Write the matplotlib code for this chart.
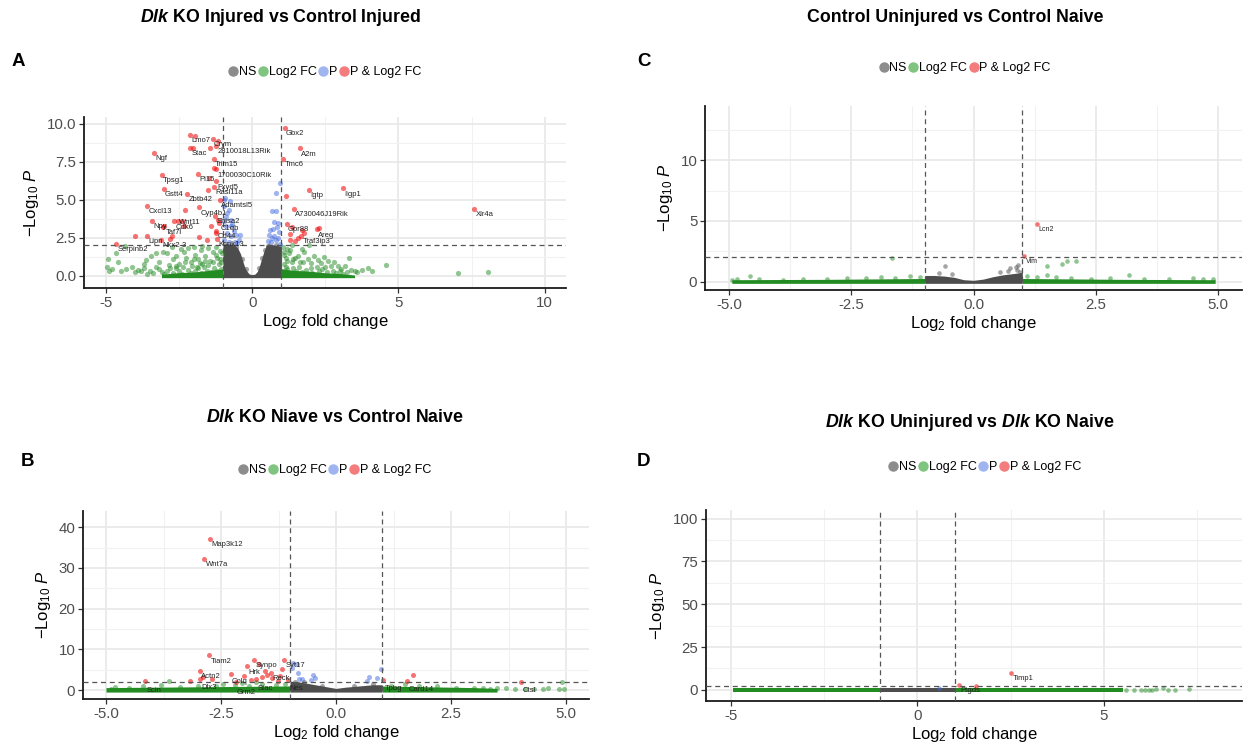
import matplotlib
matplotlib.use("Agg")
import matplotlib.pyplot as plt
from matplotlib.lines import Line2D

plt.rcParams['font.family'] = ['Liberation Sans', 'DejaVu Sans']
plt.rcParams['mathtext.fontset'] = 'custom'
plt.rcParams['mathtext.rm'] = 'Liberation Sans'
plt.rcParams['mathtext.it'] = 'Liberation Sans:italic'
plt.rcParams['mathtext.bf'] = 'Liberation Sans:bold'
plt.rcParams['mathtext.bfit'] = 'Liberation Sans:italic:bold'
plt.rcParams['axes.unicode_minus'] = False

# ---------------- panel A : Dlk KO Injured vs Control Injured ----------------
a_sig_x = [1.11, 1.63, 1.06, 1.94, 3.09, 7.60, 1.43, 1.18, 2.20, 1.67,
           -2.12, -1.35, -1.44, -1.22, -3.36, -1.31, -1.25, -1.84, -3.09, -1.25,
           -1.30, -3.03, -2.22, -1.10, -3.58, -1.82, -2.31, -1.27, -1.14, -3.41,
           -2.67, -1.22, -3.01, -3.58, -3.13, -4.66, -1.20,
           1.15, 1.35, 1.28, 1.72, 1.55, 1.30, 2.27, 1.78, 1.45,
           -1.95, -2.14, -2.01, -1.16, -1.48, -1.50, -1.31, -2.33, -2.52, -2.40,
           -1.42, -1.82, -2.73, -1.22, -1.55, -3.99, -1.18, -2.80, -3.06]
a_sig_y = [9.71, 8.38, 7.70, 5.64, 5.75, 4.37, 4.37, 3.39, 3.05, 2.65,
           9.28, 9.00, 8.40, 8.55, 8.07, 7.68, 7.00, 6.71, 6.65, 6.21,
           5.85, 5.71, 5.40, 5.00, 4.61, 4.50, 4.30, 3.91, 3.45, 3.62,
           3.58, 2.95, 3.25, 2.62, 2.35, 2.11, 2.45,
           5.26, 3.24, 2.74, 3.02, 2.52, 2.33, 3.13, 2.80, 2.32,
           9.17, 8.40, 8.40, 8.88, 6.43, 5.62, 7.10, 3.31, 3.58, 3.58,
           3.25, 2.55, 2.59, 2.81, 2.37, 2.61, 3.68, 2.43, 3.22]
a_sig_lab = ['Gbx2', 'A2m', 'Tmc6', 'Igtp', 'Iigp1', 'Xlr4a', 'A730046J19Rik', 'Gpr88', 'Areg', 'Traf3ip3',
             'Lmo7', 'Crym', 'Stac', '2810018L13Rik', 'Ngf', 'Trim15', '1700030C10Rik', 'Pi15', 'Tpsg1', 'Fxyd5',
             'Rasl11a', 'Gstt4', 'Zbtb42', 'Adamtsl5', 'Cxcl13', 'Cyp4b1', 'Wnt11', 'Shisa2', 'C1qb', 'Npy',
             'Cdk6', 'Cd44', 'Taf7l', 'Lipn', 'Nkx2-3', 'Serpinb2', 'Kcnk13'] + [''] * 28

a_p_x = [-0.97, -0.93, -0.98, -0.75, -0.79, -0.85, -0.74, -0.95, -0.91, -0.74,
         -0.63, -0.85, -0.72, -0.57, -0.45, -0.97, -0.80, -0.60, -0.40, -0.88,
         -0.68, -0.52, 0.94, 0.80, 0.67, 0.82, 0.75, 0.90, 0.62, 0.72,
         0.91, 0.58, 0.75, 0.87, 0.53, 0.64, 0.81, 0.94, 0.68, 0.85]
a_p_y = [5.00, 5.09, 4.62, 4.92, 4.35, 4.13, 3.69, 3.58, 3.25, 3.25,
         2.92, 2.81, 2.59, 2.70, 2.37, 2.37, 2.20, 2.25, 2.70, 3.90,
         3.40, 2.15, 6.13, 5.43, 4.24, 4.28, 3.54, 3.50, 3.02, 3.07,
         2.91, 2.70, 2.59, 2.48, 2.26, 2.20, 2.37, 2.11, 2.50, 3.20]

a_fc_x = [-4.93, -4.80, -4.95, -4.88, -4.67, -4.35, -4.60, -4.50, -4.30, -4.10,
          -4.02, -3.90, -3.80, -3.70, -3.64, -3.50, -3.45, -3.30, -3.30, -3.20,
          -3.10, -3.05, -2.90, -2.85, -2.70, -2.61, -2.50, -2.45, -2.33, -2.25,
          -2.10, -2.00, -1.95, -1.85, -1.75, -1.70, -1.60, -1.50, -1.45, -1.35,
          -1.25, -1.20, -1.10, -1.05, -1.70, -2.20, -2.75, -1.90, -2.60, -3.60,
          -3.00, -2.90, -2.80, -2.70, -2.60, -2.50, -2.40, -2.35, -2.30, -2.20,
          -2.10, -2.05, -2.00, -1.95, -1.85, -1.80, -1.75, -1.65, -1.60, -1.55,
          -1.50, -1.40, -1.35, -1.30, -1.25, -1.20, -1.15, -1.10, -1.05, -1.02,
          -3.20, -3.40, -3.70,
          1.05, 1.10, 1.20, 1.30, 1.36, 1.45, 1.55, 1.65, 1.78, 1.90,
          1.95, 2.00, 2.10, 2.24, 2.35, 2.45, 2.50, 2.69, 2.80, 2.92,
          3.05, 3.18, 3.30, 3.38, 3.50, 3.60, 3.75, 3.95, 4.10, 4.59,
          7.05, 8.05, 1.15, 1.40, 1.70, 2.60,
          1.05, 1.10, 1.15, 1.20, 1.25, 1.30, 1.35, 1.40, 1.50, 1.60,
          1.70, 1.75, 1.85, 2.00, 2.05, 2.20, 2.30, 2.40, 2.55, 2.75,
          2.85, 3.00, 3.10, 3.25, 1.08, 1.18]
a_fc_y = [1.14, 0.48, 0.60, 0.35, 1.47, 1.96, 0.90, 0.30, 0.45, 0.55,
          0.26, 0.40, 0.30, 0.75, 1.06, 0.35, 1.30, 1.47, 0.60, 0.90,
          0.25, 1.60, 1.50, 0.70, 1.10, 1.28, 0.80, 1.75, 1.60, 1.20,
          0.90, 1.93, 1.40, 1.10, 1.70, 0.80, 1.30, 1.85, 1.00, 1.55,
          1.90, 1.20, 1.65, 0.90, 1.95, 1.85, 1.90, 0.60, 0.50, 0.15,
          0.10, 0.30, 0.50, 0.20, 0.65, 0.35, 0.15, 0.55, 0.90, 0.40,
          0.20, 0.65, 1.10, 0.30, 0.50, 0.85, 0.20, 0.60, 1.00, 0.35,
          0.70, 0.25, 0.90, 0.50, 1.35, 0.30, 0.75, 1.10, 0.45, 1.50,
          0.45, 0.20, 0.50,
          1.90, 1.40, 1.00, 1.70, 2.00, 1.20, 1.28, 0.90, 1.54, 1.10,
          2.04, 0.85, 1.30, 1.07, 0.85, 1.25, 0.60, 0.63, 0.90, 0.63,
          0.45, 0.63, 1.17, 0.41, 0.35, 0.28, 0.40, 0.50, 0.30, 0.70,
          0.20, 0.28, 0.60, 0.50, 1.75, 1.00,
          0.30, 0.80, 1.20, 0.45, 1.50, 0.20, 0.90, 1.10, 0.35, 0.60,
          0.25, 0.90, 0.40, 0.50, 0.20, 0.60, 0.30, 0.45, 0.25, 0.35,
          0.20, 0.30, 0.15, 0.25, 1.60, 1.75]
# dense green band at the bottom (envelope of overlapping points)
a_fc_band_lx = [-3.1, -2.6, -2.0, -1.5, -1.0]
a_fc_band_ly = [0.10, 0.20, 0.25, 0.35, 0.45]
a_fc_band_rx = [1.0, 1.5, 2.0, 2.5, 3.0, 3.5]
a_fc_band_ry = [0.45, 0.35, 0.30, 0.20, 0.15, 0.05]

a_ns_x = [-0.90, -0.70, -0.55, 0.55, 0.45, 0.80, -0.35, 0.35, -0.20, 0.22]
a_ns_y = [2.00, 1.95, 1.90, 1.95, 1.70, 2.00, 1.10, 1.20, 0.45, 0.50]
a_ns_band_x = [-1.0, -0.9, -0.8, -0.7, -0.6, -0.5, -0.4, -0.32, -0.25, -0.18, -0.1,
               0.0, 0.1, 0.18, 0.25, 0.32, 0.4, 0.48, 0.55, 0.7, 0.85, 1.0]
a_ns_band_y = [2.05, 2.10, 2.10, 2.05, 2.00, 1.85, 1.45, 0.95, 0.55, 0.30, 0.12,
               0.08, 0.12, 0.30, 0.65, 1.10, 1.60, 2.00, 2.10, 2.05, 2.00, 1.95]

# ---------------- panel C : Control Uninjured vs Control Naive ----------------
c_sig_x = [1.31, 1.04]
c_sig_y = [4.74, 2.10]
c_sig_lab = ['Lcn2', 'Vim']
c_p_x = []
c_p_y = []
c_fc_x = [-1.66, 1.51, 1.82, 1.91, 2.09, 3.18, -4.58, -4.95, -4.85, -4.40,
          -3.90, -3.50, -3.00, -2.60, -2.20, -1.90, -1.60, -1.30, -1.10, 1.10,
          1.30, 1.50, 1.70, 2.00, 2.40, 2.80, 3.50, 4.00, 4.50, 4.70, 4.90]
c_fc_y = [1.98, 1.29, 1.44, 1.67, 1.67, 0.52, 0.46, 0.10, 0.20, 0.20,
          0.15, 0.20, 0.25, 0.30, 0.30, 0.35, 0.30, 0.45, 0.40, 0.45,
          0.40, 0.50, 0.35, 0.30, 0.25, 0.30, 0.20, 0.25, 0.30, 0.25, 0.20]
c_fc_band_lx = [-4.95, -3.0, -1.0]
c_fc_band_ly = [0.15, 0.18, 0.25]
c_fc_band_rx = [1.0, 3.0, 4.95]
c_fc_band_ry = [0.25, 0.18, 0.15]
c_ns_x = [-0.58, 0.75, 0.88, 0.92, 0.96, -0.70, -0.45, 0.55, 0.70, 0.90]
c_ns_y = [1.29, 1.09, 1.18, 1.38, 0.80, 0.70, 0.60, 0.75, 0.85, 0.95]
c_ns_band_x = [-1.0, -0.8, -0.6, -0.4, -0.2, 0.0, 0.2, 0.4, 0.6, 0.8, 1.0]
c_ns_band_y = [0.50, 0.50, 0.45, 0.35, 0.15, 0.10, 0.20, 0.40, 0.55, 0.65, 0.75]

# ---------------- panel B : Dlk KO Naive vs Control Naive ----------------
b_sig_x = [-2.74, -2.86, -2.76, -1.78, -1.13, -1.94, -2.96, -2.96, -2.29, -2.18,
           -1.73, -1.42, -1.05, -4.15, 1.03, 1.55, 4.02,
           -1.67, -1.18, -2.01, -1.55, -3.17, -2.90, -1.84, -1.49, -1.22, -1.40,
           -1.26, 1.68, -2.70, -1.60]
b_sig_y = [37.1, 32.3, 8.5, 7.45, 7.3, 5.8, 4.8, 2.8, 4.0, 2.1,
           2.6, 4.3, 2.5, 2.2, 2.5, 2.3, 2.0,
           6.3, 5.06, 3.4, 4.64, 2.17, 3.16, 2.58, 3.82, 3.4, 2.99,
           2.2, 3.6, 2.6, 3.3]
b_sig_lab = ['Map3k12', 'Wnt7a', 'Tiam2', 'Synpo', 'Syt17', 'Hrk', 'Actn2', 'Dlx3', 'Colq', 'Grm2',
             'Stac', 'Reck', 'Nes', 'Scin', 'Tpbg', 'Card14', 'Ctsl'] + [''] * 14
b_p_x = [-0.93, -0.85, -0.82, -0.74, -0.50, -0.45, -0.80, -0.95, -0.55, 0.98, 0.72, 0.90, 0.68]
b_p_y = [6.7, 6.5, 4.2, 2.7, 3.6, 3.0, 2.6, 5.5, 2.4, 5.2, 3.2, 3.0, 2.2]
b_fc_x = [-3.63, -4.90, -4.50, -4.80, -4.20, -3.80, -3.40, -3.00, -2.60, -2.20,
          -1.90, -1.60, -1.30, -1.10, -2.45, -2.05, -1.75, 1.20, 1.50, 1.80,
          2.20, 2.60, 3.00, 3.20, 3.50, 3.70, 3.90, 4.10, 4.30, 4.50,
          4.60, 4.85, 4.92, 4.95, 3.35]
b_fc_y = [2.2, 0.3, 0.5, 0.8, 0.9, 1.2, 0.8, 1.0, 1.1, 1.3,
          1.0, 1.5, 1.2, 1.6, 1.6, 1.8, 1.9, 1.0, 1.5, 1.0,
          0.9, 0.6, 0.5, 0.6, 0.4, 0.5, 0.3, 0.3, 0.3, 0.2,
          0.5, 0.3, 2.0, 0.3, 0.2]
b_fc_band_lx = [-5.0, -4.0, -3.0, -2.0, -1.0]
b_fc_band_ly = [0.6, 0.7, 0.8, 0.9, 1.0]
b_fc_band_rx = [1.0, 2.0, 3.0, 3.5]
b_fc_band_ry = [1.0, 0.8, 0.6, 0.4]
b_ns_x = [-0.90, -0.70, -0.30, 0.40, 0.80]
b_ns_y = [2.1, 1.9, 1.1, 1.0, 1.5]
b_ns_band_x = [-1.0, -0.8, -0.6, -0.4, -0.2, 0.0, 0.2, 0.4, 0.6, 0.8, 1.0]
b_ns_band_y = [2.2, 2.0, 1.6, 1.2, 0.8, 0.4, 0.7, 0.9, 1.1, 1.3, 1.3]

# ---------------- panel D : Dlk KO Uninjured vs Dlk KO Naive ----------------
d_sig_x = [2.52, 1.11, 1.58]
d_sig_y = [9.7, 2.8, 2.2]
d_sig_lab = ['Timp1', 'Ptgds', '']
d_p_x = [0.57]
d_p_y = [1.2]
d_fc_x = [6.58, 6.72, 7.28, 6.90, 6.20, 6.40, 5.80, 6.00, 5.60, 6.10, 6.30]
d_fc_y = [1.0, 0.0, 0.4, 0.2, 0.0, 0.3, 0.1, -0.2, 0.2, 0.1, -0.1]
d_fc_band_lx = [-4.95, -1.0]
d_fc_band_ly = [0.8, 0.8]
d_fc_band_rx = [1.0, 5.5]
d_fc_band_ry = [0.8, 0.8]
d_ns_x = []
d_ns_y = []
d_ns_band_x = [-1.0, 1.0]
d_ns_band_y = [0.8, 0.8]

legend_full = ['NS', 'Log2 FC', 'P', 'P & Log2 FC']
legend_c = ['NS', 'Log2 FC', 'P & Log2 FC']

col_ns, col_fc, col_p, col_sig = '#4d4d4d', '#228b22', '#4169e1', '#ee0000'
leg_cols = {'NS': '#8c8c8c', 'Log2 FC': '#7fc47f', 'P': '#a0b4f0', 'P & Log2 FC': '#f47c7c'}
# labels that ggrepel pushed somewhere other than just below-right (offset in points)
shift_a = {'Stac': (-2, -1.5, 'right'), 'Wnt11': (-4, -6, 'left')}
shift_b = {'Grm2': (1, -5.5, 'left'), 'Stac': (1, -4, 'left'), 'Dlx3': (1, -3.5, 'left'),
           'Nes': (1, -4, 'left'), 'Scin': (1, -4, 'left'), 'Tpbg': (1, -4, 'left'),
           'Card14': (1, -4, 'left'), 'Ctsl': (1, -4, 'left'), 'Colq': (1, -3, 'left')}

fig = plt.figure(figsize=(12.44, 7.53), dpi=100)


def volcano(rect, xlim, ylim, xticks, yticks, xminor, yminor, xfmt, yfmt,
            sig, p, fc, fcband, ns, nsband, band_bottom, ms, lab_fs, shifts):
    ax = fig.add_axes(rect)
    ax.set_xlim(*xlim)
    ax.set_ylim(*ylim)
    ax.set_xticks(xticks)
    ax.set_xticklabels([xfmt.format(v) for v in xticks])
    ax.set_yticks(yticks)
    ax.set_yticklabels([yfmt.format(v) for v in yticks])
    ax.set_xticks(xminor, minor=True)
    ax.set_yticks(yminor, minor=True)
    ax.tick_params(which='minor', length=0)
    ax.tick_params(which='major', length=3.5, width=0.9, color='#333333',
                   labelsize=10.8, labelcolor='#4d4d4d', pad=2)
    ax.grid(which='major', color='#e8e8e8', lw=1.2)
    ax.grid(which='minor', color='#f1f1f1', lw=0.8)
    ax.set_axisbelow(True)
    for s in ['top', 'right']:
        ax.spines[s].set_visible(False)
    for s in ['left', 'bottom']:
        ax.spines[s].set_linewidth(1.3)
        ax.spines[s].set_color('#1a1a1a')

    # dense bands made of thousands of overlapping points
    lx, ly, rx, ry = fcband
    ax.fill_between(lx, band_bottom, ly, color=col_fc, lw=0, zorder=2)
    ax.fill_between(rx, band_bottom, ry, color=col_fc, lw=0, zorder=2)
    ax.fill_between(nsband[0], band_bottom, nsband[1], color=col_ns, lw=0, zorder=2)

    ax.scatter(fc[0], fc[1], s=ms, color=col_fc, alpha=0.5, lw=0, zorder=3)
    ax.scatter(ns[0], ns[1], s=ms, color=col_ns, alpha=0.5, lw=0, zorder=3)
    ax.scatter(p[0], p[1], s=ms, color=col_p, alpha=0.5, lw=0, zorder=3)
    ax.scatter(sig[0], sig[1], s=ms, color=col_sig, alpha=0.55, lw=0, zorder=4)

    for v in (-1, 1):
        ax.axvline(v, color='#555555', lw=0.9, ls=(0, (4, 3)), zorder=5)
    ax.axhline(2, color='#555555', lw=0.9, ls=(0, (4, 3)), zorder=5)

    for x, y, t in zip(sig[0], sig[1], sig[2]):
        if t:
            dx, dy, ha = shifts.get(t, (1, -1.5, 'left'))
            ax.annotate(t, (x, y), xytext=(dx, dy), textcoords='offset points',
                        ha=ha, va='top', fontsize=lab_fs, color='#222222', zorder=6)

    ax.set_xlabel(r'Log$_2$ fold change', fontsize=12, labelpad=2)
    ax.set_ylabel(r'$-$Log$_{10}$ $\mathit{P}$', fontsize=12, labelpad=4)
    return ax


# A
volcano([84 / 1244, 1 - 288 / 753, 482 / 1244, 171 / 753], (-5.75, 10.73), (-0.8, 10.45),
        [-5, 0, 5, 10], [0, 2.5, 5, 7.5, 10], [-2.5, 2.5, 7.5], [1.25, 3.75, 6.25, 8.75],
        '{:g}', '{:.1f}',
        (a_sig_x, a_sig_y, a_sig_lab), (a_p_x, a_p_y), (a_fc_x, a_fc_y),
        (a_fc_band_lx, a_fc_band_ly, a_fc_band_rx, a_fc_band_ry),
        (a_ns_x, a_ns_y), (a_ns_band_x, a_ns_band_y), -0.12, 14, 5.5, shift_a)
# C
volcano([705 / 1244, 1 - 290 / 753, 537 / 1244, 184 / 753], (-5.5, 5.5), (-0.7, 14.5),
        [-5, -2.5, 0, 2.5, 5], [0, 5, 10], [-3.75, -1.25, 1.25, 3.75], [2.5, 7.5, 12.5],
        '{:.1f}', '{:g}',
        (c_sig_x, c_sig_y, c_sig_lab), (c_p_x, c_p_y), (c_fc_x, c_fc_y),
        (c_fc_band_lx, c_fc_band_ly, c_fc_band_rx, c_fc_band_ry),
        (c_ns_x, c_ns_y), (c_ns_band_x, c_ns_band_y), -0.15, 11, 5, {})
# B
volcano([83 / 1244, 1 - 699 / 753, 506 / 1244, 188 / 753], (-5.5, 5.5), (-2.2, 44),
        [-5, -2.5, 0, 2.5, 5], [0, 10, 20, 30, 40], [-3.75, -1.25, 1.25, 3.75], [5, 15, 25, 35],
        '{:.1f}', '{:g}',
        (b_sig_x, b_sig_y, b_sig_lab), (b_p_x, b_p_y), (b_fc_x, b_fc_y),
        (b_fc_band_lx, b_fc_band_ly, b_fc_band_rx, b_fc_band_ry),
        (b_ns_x, b_ns_y), (b_ns_band_x, b_ns_band_y), -0.5, 13, 5.5, shift_b)
# D
volcano([706 / 1244, 1 - 701 / 753, 536 / 1244, 191 / 753], (-5.67, 8.7), (-6.5, 105),
        [-5, 0, 5], [0, 25, 50, 75, 100], [-2.5, 2.5, 7.5], [12.5, 37.5, 62.5, 87.5],
        '{:g}', '{:g}',
        (d_sig_x, d_sig_y, d_sig_lab), (d_p_x, d_p_y), (d_fc_x, d_fc_y),
        (d_fc_band_lx, d_fc_band_ly, d_fc_band_rx, d_fc_band_ry),
        (d_ns_x, d_ns_y), (d_ns_band_x, d_ns_band_y), -1.2, 11, 5.5, {})

# titles, panel letters, legends
W, H = 1244, 753
titles = [(280, 18, r'$\mathbfit{Dlk}$ KO Injured vs Control Injured'),
          (955, 18, 'Control Uninjured vs Control Naive'),
          (335, 418, r'$\mathbfit{Dlk}$ KO Niave vs Control Naive'),
          (970, 423, r'$\mathbfit{Dlk}$ KO Uninjured vs $\mathbfit{Dlk}$ KO Naive')]
for x, y, t in titles:
    fig.text(x / W, 1 - y / H, t, ha='center', va='center', fontsize=12.8, fontweight='bold')

for x, y, t in [(18, 62, 'A'), (644, 62, 'C'), (28, 462, 'B'), (643, 462, 'D')]:
    fig.text(x / W, 1 - y / H, t, ha='center', va='center', fontsize=13.5, fontweight='bold')

for x, y, names in [(325, 72, legend_full), (965, 68, legend_c),
                    (335, 470, legend_full), (985, 467, legend_full)]:
    handles = [Line2D([], [], marker='o', ls='', ms=6.5, color=leg_cols[n]) for n in names]
    fig.legend(handles, names, loc='center', bbox_to_anchor=(x / W, 1 - y / H), ncol=len(names),
               frameon=False, fontsize=9, handlelength=0.7, handletextpad=0.1,
               columnspacing=0.2, borderpad=0)

fig.savefig('out.png', dpi=100)
